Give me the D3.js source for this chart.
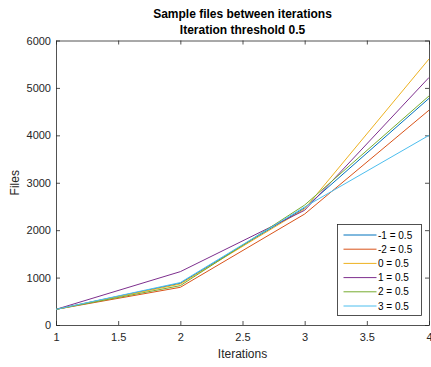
<!DOCTYPE html>
<html>
<head>
<meta charset="utf-8">
<script src="https://cdn.jsdelivr.net/npm/d3@7"></script>
<style>
  html, body { margin: 0; padding: 0; background: #fff; }
  svg { display: block; font-family: "Liberation Sans", Arial, sans-serif; }
</style>
</head>
<body>
<svg id="chart" width="431" height="367"></svg>
<script>
// Iteration index along the x axis
const iterations = [1, 2, 3, 4];

// Sample file counts per series
const seriesNames = ["-1 = 0.5", "-2 = 0.5", "0 = 0.5", "1 = 0.5", "2 = 0.5", "3 = 0.5"];
const seriesM1 = [330, 880, 2470, 4780];
const seriesM2 = [330, 795, 2340, 4530];
const series0  = [330, 865, 2450, 5610];
const series1  = [330, 1125, 2420, 5220];
const series2  = [330, 830, 2530, 4830];
const series3  = [330, 895, 2490, 4000];
const seriesValues = [seriesM1, seriesM2, series0, series1, series2, series3];
const seriesColors = ["#0072BD", "#D95319", "#EDB120", "#7E2F8E", "#77AC30", "#4DBEEE"];

const xTicks = [1, 1.5, 2, 2.5, 3, 3.5, 4];
const yTicks = [0, 1000, 2000, 3000, 4000, 5000, 6000];

const titleLines = ["Sample files between iterations", "Iteration threshold 0.5"];

const svg = d3.select("#chart");
const L = 56, R = 429, T = 40.5, B = 325;
const axisColor = "#262626";

const x = d3.scaleLinear().domain([1, 4]).range([L, R]);
const y = d3.scaleLinear().domain([0, 6000]).range([B, T]);

// Axes (ticks point inward, box drawn on all four sides)
const tickLen = 4;
const fmtX = d => d3.format("")(d);

const gx = svg.append("g").attr("transform", `translate(0,${B})`)
  .call(d3.axisBottom(x).tickValues(xTicks).tickFormat(fmtX).tickSizeInner(-tickLen).tickSizeOuter(0).tickPadding(8));
const gxTop = svg.append("g").attr("transform", `translate(0,${T})`)
  .call(d3.axisTop(x).tickValues(xTicks).tickFormat("").tickSizeInner(-tickLen).tickSizeOuter(0));
const gy = svg.append("g").attr("transform", `translate(${L},0)`)
  .call(d3.axisLeft(y).tickValues(yTicks).tickFormat(d3.format("d")).tickSizeInner(-tickLen).tickSizeOuter(0).tickPadding(5));
const gyRight = svg.append("g").attr("transform", `translate(${R},0)`)
  .call(d3.axisRight(y).tickValues(yTicks).tickFormat("").tickSizeInner(-tickLen).tickSizeOuter(0));

[gx, gxTop, gy, gyRight].forEach(g => {
  g.select(".domain").attr("stroke", axisColor).attr("stroke-width", 0.8);
  g.selectAll(".tick line").attr("stroke", axisColor).attr("stroke-width", 0.8);
  g.selectAll(".tick text").attr("fill", axisColor).attr("font-size", 11)
    .attr("font-family", "'Liberation Sans', Arial, sans-serif");
});

// Series lines
const line = d3.line().x((d, i) => x(iterations[i])).y(d => y(d));
const plot = svg.append("g");
seriesValues.forEach((vals, k) => {
  plot.append("path")
    .datum(vals)
    .attr("d", line)
    .attr("fill", "none")
    .attr("stroke", seriesColors[k])
    .attr("stroke-width", 1);
});

// Title
svg.append("g").selectAll("text").data(titleLines).join("text")
  .attr("x", (L + R) / 2)
  .attr("y", (d, i) => 18 + i * 16)
  .attr("text-anchor", "middle")
  .attr("font-size", 12)
  .attr("font-weight", "bold")
  .attr("fill", "#000")
  .text(d => d);

// Axis labels
svg.append("text")
  .attr("x", (L + R) / 2).attr("y", 358)
  .attr("text-anchor", "middle").attr("font-size", 12).attr("fill", axisColor)
  .text("Iterations");
svg.append("text")
  .attr("transform", `translate(19,${(T + B) / 2}) rotate(-90)`)
  .attr("text-anchor", "middle").attr("font-size", 12).attr("fill", axisColor)
  .text("Files");

// Legend
const lgX = 337.5, lgY = 224.5, lgW = 84, lgH = 91, rowH = 14.2;
const lg = svg.append("g");
lg.append("rect")
  .attr("x", lgX).attr("y", lgY).attr("width", lgW).attr("height", lgH)
  .attr("fill", "#fff").attr("stroke", axisColor).attr("stroke-width", 0.8);
seriesNames.forEach((name, k) => {
  const cy = lgY + 10.5 + k * rowH;
  lg.append("line")
    .attr("x1", lgX + 6).attr("x2", lgX + 39)
    .attr("y1", cy).attr("y2", cy)
    .attr("stroke", seriesColors[k]).attr("stroke-width", 1);
  lg.append("text")
    .attr("x", lgX + 40.5).attr("y", cy + 3.5)
    .attr("font-size", 10).attr("fill", "#000")
    .text(name);
});
</script>
</body>
</html>
